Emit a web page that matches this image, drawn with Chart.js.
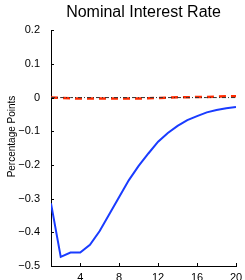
<!DOCTYPE html>
<html>
<head>
<meta charset="utf-8">
<script src="https://cdn.jsdelivr.net/npm/chart.js@4"></script>
<style>
    html, body { margin: 0; padding: 0; background: #fff; }
    #wrap { width: 245px; height: 280px; }
</style>
</head>
<body>
<div id="wrap"><canvas id="irChart" width="245" height="280"></canvas></div>
<script>
const periods = [1, 2, 3, 4, 5, 6, 7, 8, 9, 10, 11, 12, 13, 14, 15, 16, 17, 18, 19, 20];
const baseline = [-0.314, -0.473, -0.46, -0.46, -0.437, -0.396, -0.346, -0.295, -0.245, -0.203,
    -0.166, -0.131, -0.105, -0.084, -0.067, -0.055, -0.044, -0.037, -0.032, -0.028];
const alternative = [0, -0.001, -0.002, -0.003, -0.003, -0.003, -0.003, -0.003, -0.003, -0.003,
    -0.002, -0.001, 0, 0.001, 0.001, 0.002, 0.002, 0.003, 0.004, 0.004];
const zeroLine = [0, 0, 0, 0, 0, 0, 0, 0, 0, 0, 0, 0, 0, 0, 0, 0, 0, 0, 0, 0];
const xTicks = [4, 8, 12, 16, 20];
const yTicks = [-0.5, -0.4, -0.3, -0.2, -0.1, 0, 0.1, 0.2];

const FONT = '"Liberation Sans", Arial, Helvetica, sans-serif';

function points(values) {
    return periods.map((p, i) => ({ x: p, y: values[i] }));
}

// MATLAB-style inward tick marks and the offset y label
const axisDecor = {
    id: 'axisDecor',
    afterDraw(chart) {
        const { ctx, chartArea, scales } = chart;
        ctx.save();
        ctx.strokeStyle = '#000';
        ctx.lineWidth = 1;
        ctx.beginPath();
        xTicks.forEach((v) => {
            const px = Math.round(scales.x.getPixelForValue(v)) + 0.5;
            ctx.moveTo(px, chartArea.bottom);
            ctx.lineTo(px, chartArea.bottom - 3);
        });
        yTicks.forEach((v) => {
            const py = Math.round(scales.y.getPixelForValue(v)) + 0.5;
            ctx.moveTo(chartArea.left, py);
            ctx.lineTo(chartArea.left + 3, py);
        });
        ctx.stroke();

        ctx.translate(12, 136.5);
        ctx.rotate(-Math.PI / 2);
        ctx.fillStyle = '#000';
        ctx.font = '10px ' + FONT;
        ctx.textAlign = 'center';
        ctx.textBaseline = 'middle';
        ctx.fillText('Percentage Points', 0, 0);
        ctx.restore();
    }
};

new Chart(document.getElementById('irChart').getContext('2d'), {
    type: 'line',
    data: {
        datasets: [
            {
                data: points(zeroLine),
                borderColor: '#333',
                borderWidth: 1,
                borderDash: [4, 2, 1, 2],
                pointRadius: 0,
                order: 0
            },
            {
                data: points(alternative),
                borderColor: '#ff2a00',
                borderWidth: 2.5,
                borderDash: [7, 5],
                pointRadius: 0,
                order: 1
            },
            {
                data: points(baseline),
                borderColor: '#1a3cff',
                borderWidth: 2,
                pointRadius: 0,
                order: 2
            }
        ]
    },
    options: {
        responsive: false,
        animation: false,
        layout: { padding: { left: 0, right: 9, top: 0, bottom: 0 } },
        plugins: {
            legend: { display: false },
            tooltip: { enabled: false },
            title: {
                display: true,
                text: 'Nominal Interest Rate',
                color: '#000',
                fullSize: false,
                font: { family: FONT, size: 16, weight: 'normal', lineHeight: 1.2 },
                padding: { top: 3, bottom: 8 }
            }
        },
        scales: {
            x: {
                type: 'linear',
                min: 1,
                max: 20,
                afterBuildTicks: (scale) => { scale.ticks = xTicks.map((v) => ({ value: v })); },
                afterFit: (scale) => { scale.height = 14; },
                grid: { display: false },
                border: { display: true, color: '#000', width: 1 },
                ticks: {
                    color: '#000',
                    padding: -3,
                    maxRotation: 0,
                    autoSkip: false,
                    font: { family: FONT, size: 11 }
                }
            },
            y: {
                min: -0.5,
                max: 0.2,
                afterBuildTicks: (scale) => { scale.ticks = yTicks.map((v) => ({ value: v })); },
                afterFit: (scale) => { scale.width = 51; },
                grid: { display: false },
                border: { display: true, color: '#000', width: 1 },
                ticks: {
                    color: '#000',
                    padding: 3,
                    font: { family: FONT, size: 11 },
                    callback: (v) => {
                        const s = Math.abs(v) < 1e-9 ? '0' : String(Math.round(v * 10) / 10);
                        return s.replace('-', '\u2212');
                    }
                }
            }
        }
    },
    plugins: [axisDecor]
});
</script>
</body>
</html>
